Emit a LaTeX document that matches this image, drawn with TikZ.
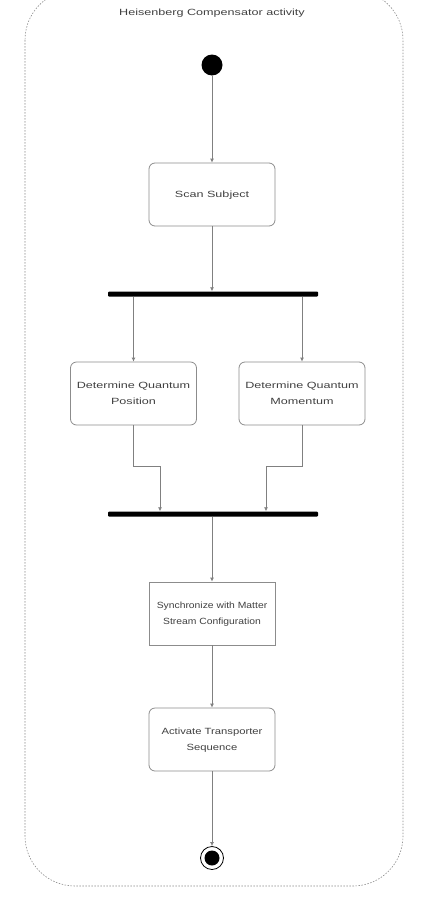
\documentclass[tikz,border=0pt]{standalone}
\usepackage{graphicx}
\usepackage{fontspec}
\setmainfont{Liberation Sans}
\usetikzlibrary{arrows.meta,positioning}

\newcommand{\widetxt}[2][1.4]{\scalebox{#1}[1]{\fontsize{9}{16}\selectfont\begin{tabular}{@{}c@{}}#2\end{tabular}}}

\tikzset{
  action/.style={draw=black!45, thick, rounded corners=6pt, minimum width=126pt,
                 minimum height=63pt, inner sep=0pt, text=black!75},
  plainaction/.style={action, rounded corners=0pt},
  bar/.style={fill=black, minimum width=210pt, minimum height=5pt, inner sep=0pt, rounded corners=1pt},
  start/.style={circle, fill=black, minimum size=21pt, inner sep=0pt},
  finish/.style={circle, draw=black, thick, minimum size=23pt, inner sep=0pt,
                 path picture={\fill (path picture bounding box.center) circle (7.5pt);}},
  flow/.style={draw=black!50, thick, -{Latex[length=4pt,width=4pt]}},
}

\begin{document}
\begin{tikzpicture}[x=1pt, y=-1pt]
  \useasboundingbox (0,0) rectangle (427,902);
  % activity frame
  \draw [black!45, semithick, dash pattern=on 1.5pt off 1.5pt, rounded corners=50pt] (25,-10) rectangle (403,886);
  \node [text=black!75] (title) at (212,12) {\widetxt{Heisenberg Compensator activity}};

  \node [start] (start) at (212,65) {};
  \node [action] (scan) at (212,194.5) {\widetxt{Scan Subject}};
  \node [bar] (fork) at (213,294) {};
  \node [action] (pos) at (133.5,393.5) {\widetxt{Determine Quantum\\Position}};
  \node [action] (mom) at (302,393.5) {\widetxt{Determine Quantum\\Momentum}};
  \node [bar] (join) at (213,514) {};
  \node [plainaction] (sync) at (212,613.5) {\widetxt[1.15]{Synchronize with Matter\\Stream Configuration}};
  \node [action] (engage) at (212,739.5) {\widetxt[1.25]{Activate Transporter\\Sequence}};
  \node [finish] (final) at (212,858) {};

  \coordinate (pl) at (160,466);
  \coordinate (ml) at (266,466);

  \draw [flow] (start) -- (scan);
  \draw [flow] (scan) -- (scan |- fork.north);
  \draw [flow] (fork.south -| pos.north) -- (pos);
  \draw [flow] (fork.south -| mom.north) -- (mom);
  \draw [flow] (pos.south) |- (pl) -- (pl |- join.north);
  \draw [flow] (mom.south) |- (ml) -- (ml |- join.north);
  \draw [flow] (join.south -| sync.north) -- (sync);
  \draw [flow] (sync) -- (engage);
  \draw [flow] (engage) -- (final);
\end{tikzpicture}
\end{document}
